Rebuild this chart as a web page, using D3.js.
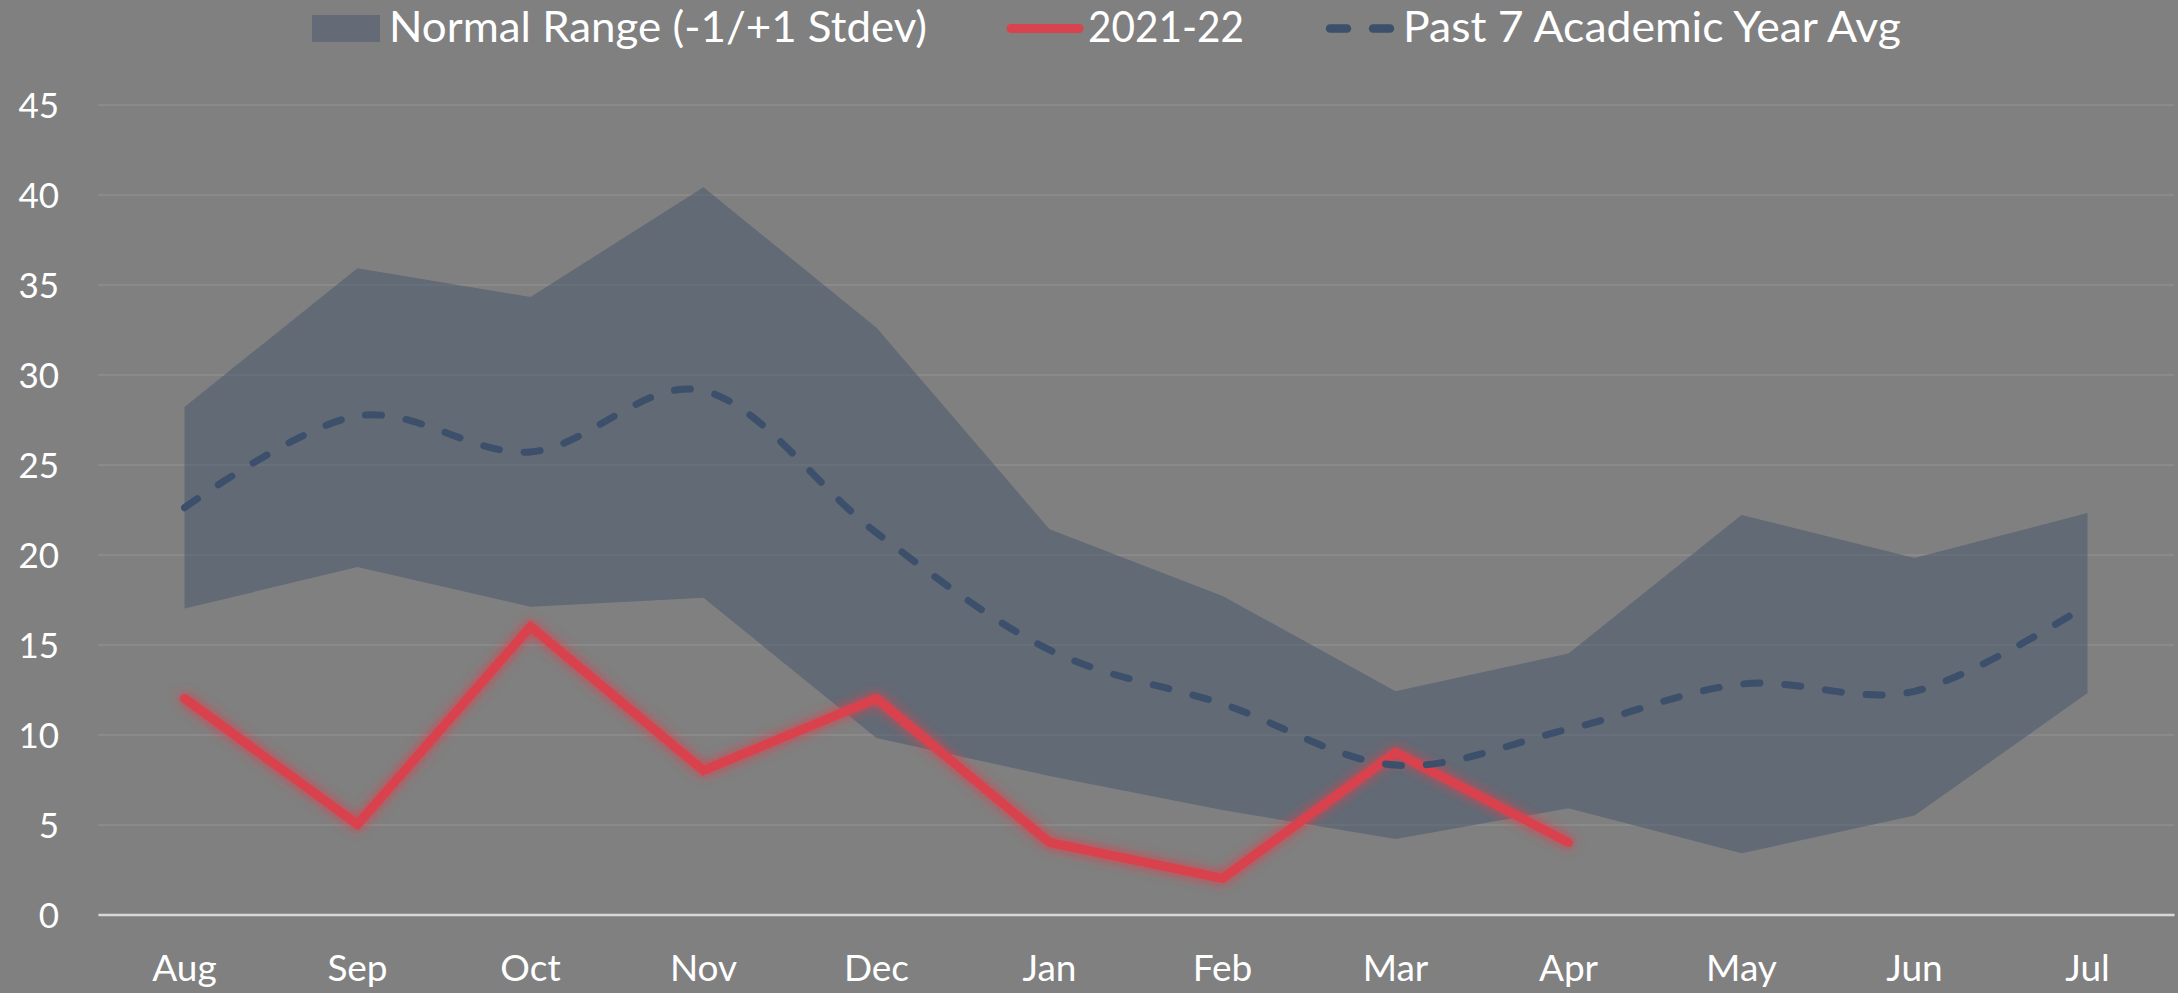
<!DOCTYPE html>
<html>
<head>
<meta charset="utf-8">
<script src="https://cdn.jsdelivr.net/npm/d3@7"></script>
<style>
  html, body { margin: 0; padding: 0; background: #808080; }
  svg { display: block; font-family: Lato, "Open Sans", sans-serif; }
</style>
</head>
<body>
<div id="chart"></div>
<script>
// --- data ---
const months = ["Aug", "Sep", "Oct", "Nov", "Dec", "Jan", "Feb", "Mar", "Apr", "May", "Jun", "Jul"];
const rangeUpper = [28.2, 35.9, 34.3, 40.4, 32.6, 21.4, 17.7, 12.4, 14.5, 22.2, 19.8, 22.3];
const rangeLower = [17.0, 19.3, 17.1, 17.6, 9.8, 7.7, 5.8, 4.2, 5.9, 3.4, 5.5, 12.3];
const pastAvg    = [22.6, 27.7, 25.7, 29.1, 21.2, 14.7, 11.7, 8.3, 10.3, 12.8, 12.4, 17.2];
const current    = [12, 5, 16, 8, 12, 4, 2, 9, 4];   // 2021-22, Aug..Apr
const yTicks = [0, 5, 10, 15, 20, 25, 30, 35, 40, 45];
const legendLabels = ["Normal Range (-1/+1 Stdev)", "2021-22", "Past 7 Academic Year Avg"];

const W = 2178, H = 993;
const plot = { left: 98, right: 2174, top: 104.5, bottom: 914.5 };

const svg = d3.select("#chart").append("svg").attr("width", W).attr("height", H);
svg.append("rect").attr("width", W).attr("height", H).attr("fill", "#808080");

// glow for the current year line
const defs = svg.append("defs");
const glow = defs.append("filter").attr("id", "glow")
  .attr("x", "-10%").attr("y", "-20%").attr("width", "120%").attr("height", "140%");
glow.append("feGaussianBlur").attr("in", "SourceGraphic").attr("stdDeviation", 6).attr("result", "blur");
glow.append("feComponentTransfer").attr("in", "blur").attr("result", "soft")
  .append("feFuncA").attr("type", "linear").attr("slope", 1.1);
const merge = glow.append("feMerge");
merge.append("feMergeNode").attr("in", "soft");
merge.append("feMergeNode").attr("in", "SourceGraphic");

const x = d3.scaleBand().domain(months).range([plot.left, plot.right]).padding(0);
const cx = m => x(m) + x.bandwidth() / 2;
const y = d3.scaleLinear().domain([0, 45]).range([plot.bottom, plot.top]);

// gridlines
const yAxis = d3.axisLeft(y).tickValues(yTicks).tickSize(-(plot.right - plot.left)).tickPadding(40);
const gy = svg.append("g").attr("transform", `translate(${plot.left},0)`).call(yAxis);
gy.select(".domain").remove();
gy.selectAll(".tick line").attr("stroke", "#8e8e8e").attr("stroke-width", 1.5);
gy.selectAll(".tick text")
  .attr("fill", "#ffffff").attr("font-size", 35).attr("font-family", "Lato, sans-serif")
  .attr("x", -39).attr("dy", "0.36em");

// normal range band
const bandData = months.map((m, i) => ({ m, lo: rangeLower[i], hi: rangeUpper[i] }));
svg.append("path")
  .datum(bandData)
  .attr("fill", "#44546A").attr("fill-opacity", 0.5)
  .attr("d", d3.area().x(d => cx(d.m)).y0(d => y(d.lo)).y1(d => y(d.hi)));

// x axis
const xAxis = d3.axisBottom(x).tickSize(0).tickPadding(40);
const gx = svg.append("g").attr("transform", `translate(0,${plot.bottom})`).call(xAxis);
gx.select(".domain").attr("stroke", "#d9d9d9").attr("stroke-width", 2.5);
gx.selectAll(".tick text")
  .attr("fill", "#ffffff").attr("font-size", 37).attr("font-family", "Lato, sans-serif");

// 2021-22 line
svg.append("path")
  .datum(current.map((v, i) => ({ m: months[i], v })))
  .attr("fill", "none").attr("stroke", "#d9434e").attr("stroke-width", 9)
  .attr("stroke-linejoin", "miter").attr("stroke-linecap", "round")
  .attr("filter", "url(#glow)")
  .attr("d", d3.line().x(d => cx(d.m)).y(d => y(d.v)));

// past 7 year average (smoothed, dashed)
svg.append("path")
  .datum(pastAvg.map((v, i) => ({ m: months[i], v })))
  .attr("fill", "none").attr("stroke", "#3c4f6b").attr("stroke-width", 7)
  .attr("stroke-dasharray", "16 25").attr("stroke-linecap", "round")
  .attr("d", d3.line().curve(d3.curveCardinal.tension(0)).x(d => cx(d.m)).y(d => y(d.v)));

// legend
const lg = svg.append("g").attr("font-family", "Lato, sans-serif").attr("font-size", 42).attr("fill", "#ffffff");
lg.append("rect").attr("x", 312).attr("y", 15).attr("width", 68).attr("height", 27).attr("fill", "#646b76");
lg.append("text").attr("x", 389).attr("y", 42).attr("textLength", 538).attr("lengthAdjust", "spacingAndGlyphs").text(legendLabels[0]);
lg.append("line").attr("x1", 1011).attr("x2", 1079).attr("y1", 28.5).attr("y2", 28.5)
  .attr("stroke", "#d9434e").attr("stroke-width", 9).attr("stroke-linecap", "round");
lg.append("text").attr("x", 1088).attr("y", 42).attr("textLength", 156).attr("lengthAdjust", "spacingAndGlyphs").text(legendLabels[1]);
lg.append("line").attr("x1", 1330).attr("x2", 1392).attr("y1", 28.5).attr("y2", 28.5)
  .attr("stroke", "#3c4f6b").attr("stroke-width", 8.5).attr("stroke-linecap", "round")
  .attr("stroke-dasharray", "17 26");
lg.append("text").attr("x", 1403).attr("y", 42).attr("textLength", 498).attr("lengthAdjust", "spacingAndGlyphs").text(legendLabels[2]);
</script>
</body>
</html>
